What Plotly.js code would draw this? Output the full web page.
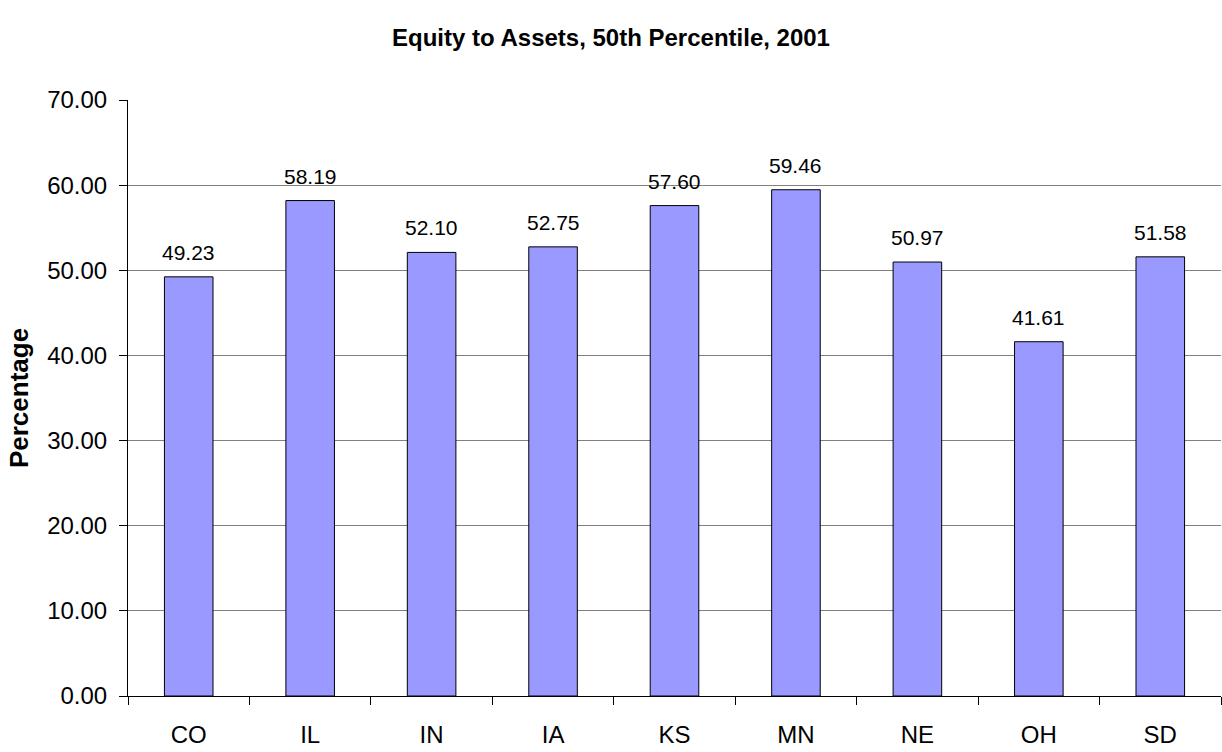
<!DOCTYPE html>
<html><head><meta charset="utf-8">
<script src="https://cdn.plot.ly/plotly-3.0.1.min.js"></script>
<style>body{margin:0;padding:0;background:#fff}#chart{width:1222px;height:752px}</style>
</head><body><div id="chart"></div>
<script>
var states = ["CO","IL","IN","IA","KS","MN","NE","OH","SD"];
var equityToAssets = [49.23, 58.19, 52.10, 52.75, 57.60, 59.46, 50.97, 41.61, 51.58];
var yTicks = [0,10,20,30,40,50,60,70];

var FONT = "Liberation Sans, Arial, sans-serif";

var trace = {
  type: "bar",
  x: states,
  y: equityToAssets,
  marker: {color: "#9999FF", line: {color: "#000", width: 1}},
  hoverinfo: "none"
};

var annotations = states.map(function(s, i){
  return {
    x: s, y: equityToAssets[i], xref: "x", yref: "y",
    text: equityToAssets[i].toFixed(2), showarrow: false,
    yanchor: "bottom", yshift: 11,
    font: {family: FONT, size: 21, color: "#000"}
  };
});

var layout = {
  width: 1222, height: 752,
  margin: {l: 128, r: 1, t: 100, b: 56},
  paper_bgcolor: "#fff", plot_bgcolor: "#fff",
  font: {family: FONT, color: "#000"},
  title: {text: "<b>Equity to Assets, 50th Percentile, 2001</b>", x: 0.5, xanchor: "center", y: 0.95, yanchor: "middle",
          font: {size: 24, family: FONT, color: "#000"}},
  bargap: 0.6,
  showlegend: false,
  annotations: annotations,
  xaxis: {
    type: "category",
    showline: true, linecolor: "#000", linewidth: 1,
    ticks: "outside", tickson: "boundaries", ticklen: 8, tickcolor: "#000",
    ticklabelstandoff: 17,
    tickfont: {size: 24}, showgrid: false, fixedrange: true
  },
  yaxis: {
    range: [0, 70],
    tickvals: yTicks,
    ticktext: yTicks.map(function(v){return v.toFixed(2);}),
    showline: true, linecolor: "#000", linewidth: 1,
    ticks: "outside", ticklen: 8, tickcolor: "#000",
    ticklabelstandoff: 7,
    tickfont: {size: 24},
    showgrid: true, gridcolor: "#808080", gridwidth: 1,
    zeroline: false,
    title: {text: "<b>Percentage</b>", font: {size: 26}, standoff: 11},
    fixedrange: true
  }
};
Plotly.newPlot("chart", [trace], layout, {staticPlot: true});
</script></body></html>
